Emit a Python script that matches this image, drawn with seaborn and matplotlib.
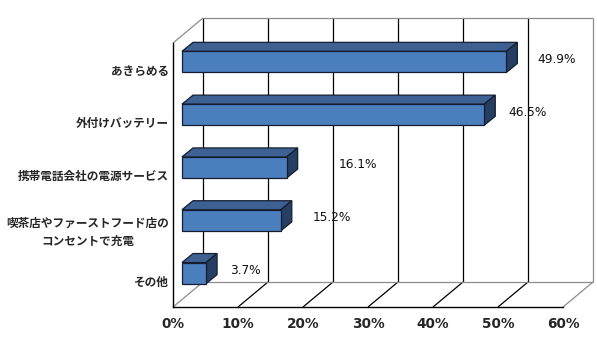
import matplotlib
matplotlib.use("Agg")
import matplotlib.pyplot as plt
from matplotlib.patches import Polygon
from matplotlib.ticker import FixedLocator
import seaborn as sns

# survey answers and their shares (%)
categories = [
    "あきらめる",
    "外付けバッテリー",
    "携帯電話会社の電源サービス",
    "喫茶店やファーストフード店の\nコンセントで充電",
    "その他",
]
shares = [49.9, 46.5, 16.1, 15.2, 3.7]
value_labels = ["49.9%", "46.5%", "16.1%", "15.2%", "3.7%"]
x_ticks = [0, 10, 20, 30, 40, 50, 60]
x_tick_labels = ["0%", "10%", "20%", "30%", "40%", "50%", "60%"]

sns.set_style("white")
plt.rcParams["font.family"] = ["Noto Sans CJK JP", "DejaVu Sans"]

FRONT = "#4A7EBD"
TOP = "#3E6092"
SIDE = "#263E62"
EDGE = "#141E30"
WALL = "#8C8C8C"

W, H, DPI = 597, 341, 100
fig = plt.figure(figsize=(W / DPI, H / DPI), dpi=DPI)
ax = fig.add_axes([173 / W, 34 / H, 390 / W, 264 / H])

sns.barplot(x=shares, y=categories, orient="h", color=FRONT, saturation=1,
            width=0.4, edgecolor=EDGE, linewidth=0.9, ax=ax, zorder=5)

XMAX = x_ticks[-1]
n = len(categories)
ax.set_xlim(0, XMAX)
ax.set_ylim(n - 0.5, -0.5)

# pixel scale of the front plane, used for the pseudo-3D depth
sx = 390 / XMAX
sy = 264 / n

def off(px, py):
    """pixel offset (right, up) -> data offset"""
    return px / sx, -py / sy

wall_dx, wall_dy = off(30, 25)
bar_fx, bar_fy = off(9, 7.5)
bar_bx, bar_by = off(20, 16.5)
top_y, bot_y = -0.5, n - 0.5

lk = dict(clip_on=False, solid_capstyle="butt")
# back wall: vertical gridlines plus frame
for t in x_ticks:
    c = "black" if t < XMAX else WALL
    ax.plot([t + wall_dx] * 2, [bot_y + wall_dy, top_y + wall_dy], color=c, lw=0.9, zorder=1, **lk)
    # floor diagonals
    fc = "black" if 0 < t < XMAX else WALL
    ax.plot([t, t + wall_dx], [bot_y, bot_y + wall_dy], color=fc, lw=0.9, zorder=1, **lk)
ax.plot([wall_dx, XMAX + wall_dx], [top_y + wall_dy] * 2, color=WALL, lw=0.9, zorder=1, **lk)
ax.plot([wall_dx, XMAX + wall_dx], [bot_y + wall_dy] * 2, color=WALL, lw=0.9, zorder=1, **lk)
ax.plot([0, wall_dx], [top_y, top_y + wall_dy], color=WALL, lw=0.9, zorder=1, **lk)

# shift the seaborn bars into the depth and add top/side faces
for i, (patch, v) in enumerate(zip(ax.patches, shares)):
    patch.set_x(patch.get_x() + bar_fx)
    patch.set_y(patch.get_y() + bar_fy)
    patch.set_clip_on(False)
    y0 = patch.get_y() - bar_fy
    y1 = y0 + patch.get_height()
    top = Polygon([(bar_fx, y0 + bar_fy), (v + bar_fx, y0 + bar_fy),
                   (v + bar_bx, y0 + bar_by), (bar_bx, y0 + bar_by)],
                  closed=True, facecolor=TOP, edgecolor=EDGE, lw=0.9, zorder=4, clip_on=False)
    side = Polygon([(v + bar_fx, y0 + bar_fy), (v + bar_fx, y1 + bar_fy),
                    (v + bar_bx, y1 + bar_by), (v + bar_bx, y0 + bar_by)],
                   closed=True, facecolor=SIDE, edgecolor=EDGE, lw=0.9, zorder=4, clip_on=False)
    ax.add_patch(top)
    ax.add_patch(side)

# value labels beside each bar
label_pad_px = [31, 24, 52, 32, 24]
for i, (v, lab, pad) in enumerate(zip(shares, value_labels, label_pad_px)):
    dx, dy = off(pad, 10)
    ax.text(v + bar_fx + dx, i + dy, lab, ha="left", va="center",
            fontsize=8.7, family="DejaVu Sans", color="#111111", zorder=6, clip_on=False)

# front axes
for s in ["top", "right"]:
    ax.spines[s].set_visible(False)
for s in ["left", "bottom"]:
    ax.spines[s].set_color("black")
    ax.spines[s].set_linewidth(1.0)
    ax.spines[s].set_zorder(3)

ax.set_xticks(x_ticks, x_tick_labels)
ax.tick_params(axis="x", direction="in", length=4, width=1, color="black", pad=7.5)
for t in ax.get_xticklabels():
    t.set_fontfamily("DejaVu Sans")
    t.set_fontweight("bold")
    t.set_fontsize(9.8)

ax.set_yticks(range(n), categories)
ax.yaxis.set_minor_locator(FixedLocator([k - 0.5 for k in range(n + 1)]))
ax.tick_params(axis="y", which="major", length=0, pad=3)
ax.tick_params(axis="y", which="minor", direction="in", length=5, width=1, color="black")
for t in ax.get_yticklabels():
    t.set_fontsize(8.4)
    t.set_fontweight("bold")
    t.set_multialignment("center")
    t.set_linespacing(1.55)

ax.set_xlabel("")
ax.set_ylabel("")
ax.grid(False)

fig.savefig("out.png", dpi=DPI)
